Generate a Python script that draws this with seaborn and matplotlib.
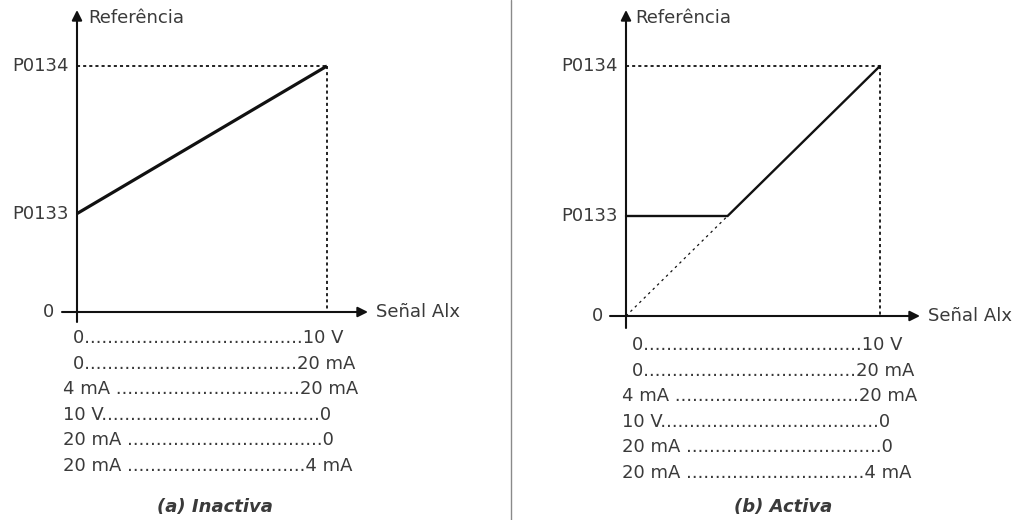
import numpy as np
import matplotlib.pyplot as plt
import seaborn as sns

# Signal (0..1 of full scale) vs reference (P0134 = 1)
p0133 = 0.4
p0134 = 1.0

# (a) Inactiva: straight line from P0133 to P0134
inact_x = [0.0, 1.0]
inact_y = [p0133, p0134]

# (b) Activa: clamped at P0133 until the 0..P0134 line reaches it
act_x = [0.0, 0.4, 1.0]
act_y = [p0133, p0133, p0134]
diag_x = [0.0, 0.4]
diag_y = [0.0, p0133]

y_ticks = [0, p0133, p0134]
y_tick_labels = ['0', 'P0133', 'P0134']
y_label = 'Referência'
x_label = 'Señal Alx'

left_labels = ['0', '0', '4 mA ', '10 V', '20 mA ', '20 mA ']
right_labels = ['10 V', '20 mA', '20 mA', '0', '0', '4 mA']
n_dots = [38, 37, 32, 38, 34, 31]
captions = ['(a) Inactiva', '(b) Activa']

sns.set_style('white')
plt.rcParams['font.family'] = ['DejaVu Sans']

W, H = 1021, 520
fig = plt.figure(figsize=(W / 100, H / 100), dpi=100)

txt_col = '#3a3a3a'
line_col = '#111111'
fs = 13


def place(ax, box, origin, unit):
    x0, y0, x1, y1 = box
    ox, oy = origin
    ux, uy = unit
    ax.set_position([x0 / W, 1 - y1 / H, (x1 - x0) / W, (y1 - y0) / H])
    ax.set_xlim((x0 - ox) / ux, (x1 - ox) / ux)
    ax.set_ylim((oy - y1) / uy, (oy - y0) / uy)
    ax.axis('off')


def draw_panel(ax, origin, unit, ax_px, lx, ly):
    ox, oy = origin
    ux, uy = unit
    dx = lambda px: (px - ox) / ux
    dy = lambda py: (oy - py) / uy
    x_start, x_tip, y_bottom, y_tip = ax_px
    arrow = dict(arrowstyle='-|>,head_length=0.6,head_width=0.3', lw=1.5,
                 color=line_col, shrinkA=0, shrinkB=0, mutation_scale=10)
    ax.annotate('', xy=(0, dy(y_tip)), xytext=(0, dy(y_bottom)), arrowprops=arrow)
    ax.annotate('', xy=(dx(x_tip), 0), xytext=(dx(x_start), 0), arrowprops=arrow)
    # dotted guides to the P0134 end point
    sns.lineplot(x=[0, inact_x[-1]], y=[p0134, p0134], ax=ax, estimator=None, sort=False,
                 color=line_col, lw=1.3, linestyle=(0, (1.7, 1.7)))
    sns.lineplot(x=[inact_x[-1], inact_x[-1]], y=[p0134, 0], ax=ax, estimator=None, sort=False,
                 color=line_col, lw=1.3, linestyle=(0, (1.7, 1.7)))
    for val, lab in zip(y_ticks, y_tick_labels):
        xr = -8 / ux if lab != '0' else -23 / ux
        ax.text(xr, val, lab, ha='right', va='center', fontsize=fs, color=txt_col)
    ax.text(dx(lx), dy(ly), y_label, ha='left', va='center', fontsize=fs, color=txt_col)
    ax.text(dx(x_tip) + 8 / ux, 0, x_label, ha='left', va='center', fontsize=fs, color=txt_col)


# left panel
ax1 = fig.add_axes([0, 0, 1, 1])
o1, u1 = (77, 312), (250, 246)
place(ax1, (0, 0, 505, 330), o1, u1)
draw_panel(ax1, o1, u1, (62, 368, 322, 10), 88, 18)
sns.lineplot(x=inact_x, y=inact_y, ax=ax1, estimator=None, sort=False,
             color=line_col, lw=2.3, solid_capstyle='butt')

# right panel
ax2 = fig.add_axes([0, 0, 1, 1])
o2, u2 = (626, 316), (254, 250)
place(ax2, (517, 0, W, 335), o2, u2)
draw_panel(ax2, o2, u2, (610, 920, 328, 10), 635, 18)
sns.lineplot(x=diag_x, y=diag_y, ax=ax2, estimator=None, sort=False,
             color=line_col, lw=0.9, linestyle=(0, (2, 3)))
sns.lineplot(x=act_x, y=act_y, ax=ax2, estimator=None, sort=False,
             color=line_col, lw=1.7, solid_joinstyle='miter')

# signal range tables under each panel
tables = [
    dict(x_short=73, x_long=63, y0=338, step=25.6, cap=(215, 507)),
    dict(x_short=632, x_long=622, y0=345, step=25.6, cap=(783, 507)),
]
for t in tables:
    for i, (l, r, n) in enumerate(zip(left_labels, right_labels, n_dots)):
        x = t['x_short'] if l == '0' else t['x_long']
        y = t['y0'] + i * t['step']
        fig.text(x / W, 1 - y / H, l + '.' * n + r, ha='left', va='center',
                 fontsize=fs, color=txt_col)

for t, cap in zip(tables, captions):
    cx, cy = t['cap']
    fig.text(cx / W, 1 - cy / H, cap, ha='center', va='center', fontsize=fs,
             fontweight='bold', fontstyle='italic', color=txt_col)

# divider between the two panels
fig.add_artist(plt.Line2D([511 / W, 511 / W], [0, 1], color='#8a8a8a', lw=1))

plt.savefig('out.png', dpi=100)
